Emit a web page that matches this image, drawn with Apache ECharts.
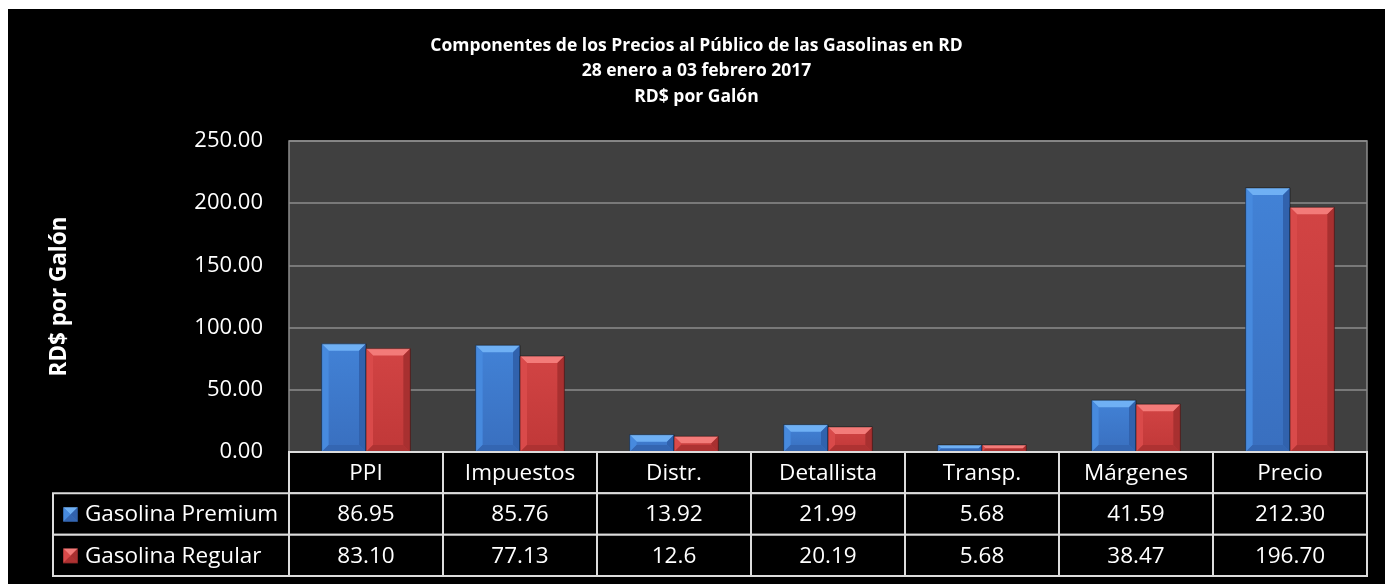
<!DOCTYPE html>
<html>
<head>
<meta charset="utf-8">
<script src="https://cdn.jsdelivr.net/npm/echarts@6/dist/echarts.min.js"></script>
<style>
  html, body { margin: 0; padding: 0; background: #ffffff; }
  #chart { position: absolute; left: 8px; top: 9px; width: 1377px; height: 575px; background: #000000; }
</style>
</head>
<body>
<div id="chart"></div>
<script>
// ---- data ----
const categories = ['PPI', 'Impuestos', 'Distr.', 'Detallista', 'Transp.', 'Márgenes', 'Precio'];
const seriesNames = ['Gasolina Premium', 'Gasolina Regular'];
const premium = [86.95, 85.76, 13.92, 21.99, 5.68, 41.59, 212.30];
const regular = [83.10, 77.13, 12.6, 20.19, 5.68, 38.47, 196.70];
const premiumText = ['86.95', '85.76', '13.92', '21.99', '5.68', '41.59', '212.30'];
const regularText = ['83.10', '77.13', '12.6', '20.19', '5.68', '38.47', '196.70'];
const yTicks = [0, 50, 100, 150, 200, 250];

// ---- styles ----
const FONT = '"Open Sans", "DejaVu Sans", sans-serif';
const palettes = [
  { face0: '#4282d6', face1: '#396fbf', top: '#6fb0f4', left: '#478ade', right: '#3162ad', bottom: '#3466b2' },
  { face0: '#d24444', face1: '#c03838', top: '#f37b79', left: '#d94a4a', right: '#a83030', bottom: '#ae3232' }
];

const chart = echarts.init(document.getElementById('chart'), null, { renderer: 'canvas' });

const plotLeft = 281, plotTop = 132, plotW = 1078, plotH = 311;
const tableTop = 443, tableH = 124, tableLeft = 45;
const colW = plotW / categories.length;
const legendUnits = (plotLeft - tableLeft) / colW;

function bevelBar(x0, y0, x1, y1, pal) {
  const h = y1 - y0, w = x1 - x0;
  const b = Math.max(0, Math.min(7, h / 2, w / 2));
  const children = [];
  children.push({ type: 'rect', shape: { x: x0, y: y0, width: w, height: h },
    style: { fill: new echarts.graphic.LinearGradient(0, 0, 0, 1, [{ offset: 0, color: pal.face0 }, { offset: 1, color: pal.face1 }]) } });
  children.push({ type: 'polygon', shape: { points: [[x0, y0], [x1, y0], [x1 - b, y0 + b], [x0 + b, y0 + b]] }, style: { fill: pal.top } });
  children.push({ type: 'polygon', shape: { points: [[x0, y0], [x0 + b, y0 + b], [x0 + b, y1 - b], [x0, y1]] }, style: { fill: pal.left } });
  children.push({ type: 'polygon', shape: { points: [[x1, y0], [x1, y1], [x1 - b, y1 - b], [x1 - b, y0 + b]] }, style: { fill: pal.right } });
  children.push({ type: 'polygon', shape: { points: [[x0, y1], [x0 + b, y1 - b], [x1 - b, y1 - b], [x1, y1]] }, style: { fill: pal.bottom } });
  children.push({ type: 'rect', shape: { x: x0, y: y0, width: w, height: h }, style: { fill: 'none', stroke: 'rgba(0,0,0,0.45)', lineWidth: 1 } });
  return children;
}

function barRender(seriesIdx) {
  return function (params, api) {
    const ci = api.value(0), v = api.value(1);
    const base = api.coord([ci, 0]);
    const top = api.coord([ci, v]);
    const catW = api.size([1, 0])[0];
    const bw = catW * 0.288;
    const x0 = seriesIdx === 0 ? base[0] - bw : base[0];
    return { type: 'group', children: bevelBar(x0, top[1], x0 + bw, base[1], palettes[seriesIdx]) };
  };
}

// table cells
const cells = [];
categories.forEach((c, i) => cells.push({ x0: i, x1: i + 1, row: 0, text: c, icon: -1 }));
seriesNames.forEach((n, r) => {
  cells.push({ x0: -legendUnits, x1: 0, row: r + 1, text: n, icon: r });
  const texts = r === 0 ? premiumText : regularText;
  texts.forEach((t, i) => cells.push({ x0: i, x1: i + 1, row: r + 1, text: t, icon: -2 }));
});

function tableRender(params, api) {
  const c = cells[params.dataIndex];
  const p0 = api.coord([c.x0, c.row]);
  const p1 = api.coord([c.x1, c.row + 1]);
  const x0 = p0[0], y0 = p0[1], x1 = p1[0], y1 = p1[1];
  const children = [
    { type: 'rect', shape: { x: x0, y: y0, width: x1 - x0, height: y1 - y0 }, style: { fill: '#000', stroke: '#dcdcdc', lineWidth: 2 } }
  ];
  const cy = (y0 + y1) / 2;
  if (c.icon >= 0) {
    children.push({ type: 'group', children: bevelBar(x0 + 10, cy - 7, x0 + 25, cy + 8, palettes[c.icon]) });
    children.push({ type: 'text', style: { text: c.text, x: x0 + 32, y: cy + 1, fill: '#fff', font: '22.5px ' + FONT, textAlign: 'left', textVerticalAlign: 'middle' } });
  } else {
    children.push({ type: 'text', style: { text: c.text, x: (x0 + x1) / 2, y: cy + 1, fill: '#fff', font: '22.5px ' + FONT, textAlign: 'center', textVerticalAlign: 'middle' } });
  }
  return { type: 'group', children };
}

const option = {
  backgroundColor: '#000000',
  animation: false,
  textStyle: { fontFamily: FONT },
  title: {
    text: 'Componentes de los Precios al Público de las Gasolinas en RD\n28 enero a 03 febrero 2017\nRD$ por Galón',
    left: 'center', top: 24, padding: [0, 0, 0, 14],
    textStyle: { color: '#fff', fontFamily: FONT, fontWeight: 'bold', fontSize: 17.5, lineHeight: 25.5 }
  },
  grid: [
    { left: plotLeft, top: plotTop, width: plotW, height: plotH, show: true, backgroundColor: '#404040', borderColor: '#8c8c8c', borderWidth: 1.5 },
    { left: tableLeft, top: tableTop, width: plotW + plotLeft - tableLeft, height: tableH }
  ],
  xAxis: [
    { type: 'value', gridIndex: 0, min: -0.5, max: categories.length - 0.5, show: false },
    { type: 'value', gridIndex: 1, min: -legendUnits, max: categories.length, show: false }
  ],
  yAxis: [
    { type: 'value', gridIndex: 0, min: yTicks[0], max: yTicks[yTicks.length - 1], interval: 50,
      axisLine: { show: false }, axisTick: { show: false },
      axisLabel: { color: '#fff', fontSize: 22, fontFamily: FONT, margin: 26, formatter: v => v.toFixed(2) },
      splitLine: { lineStyle: { color: '#8c8c8c', width: 1.5 } },
      name: 'RD$ por Galón', nameLocation: 'middle', nameRotate: 90, nameGap: 218,
      nameTextStyle: { color: '#fff', fontSize: 22.5, fontWeight: 'bold', fontFamily: FONT } },
    { type: 'value', gridIndex: 1, min: 0, max: 3, inverse: true, show: false }
  ],
  series: [
    { name: seriesNames[0], type: 'custom', xAxisIndex: 0, yAxisIndex: 0, renderItem: barRender(0),
      data: premium.map((v, i) => [i, v]) },
    { name: seriesNames[1], type: 'custom', xAxisIndex: 0, yAxisIndex: 0, renderItem: barRender(1),
      data: regular.map((v, i) => [i, v]) },
    { name: 'tabla', type: 'custom', xAxisIndex: 1, yAxisIndex: 1, renderItem: tableRender,
      data: cells.map(c => [c.x0, c.x1, c.row]), z: 5 }
  ]
};
chart.setOption(option);
</script>
</body>
</html>
